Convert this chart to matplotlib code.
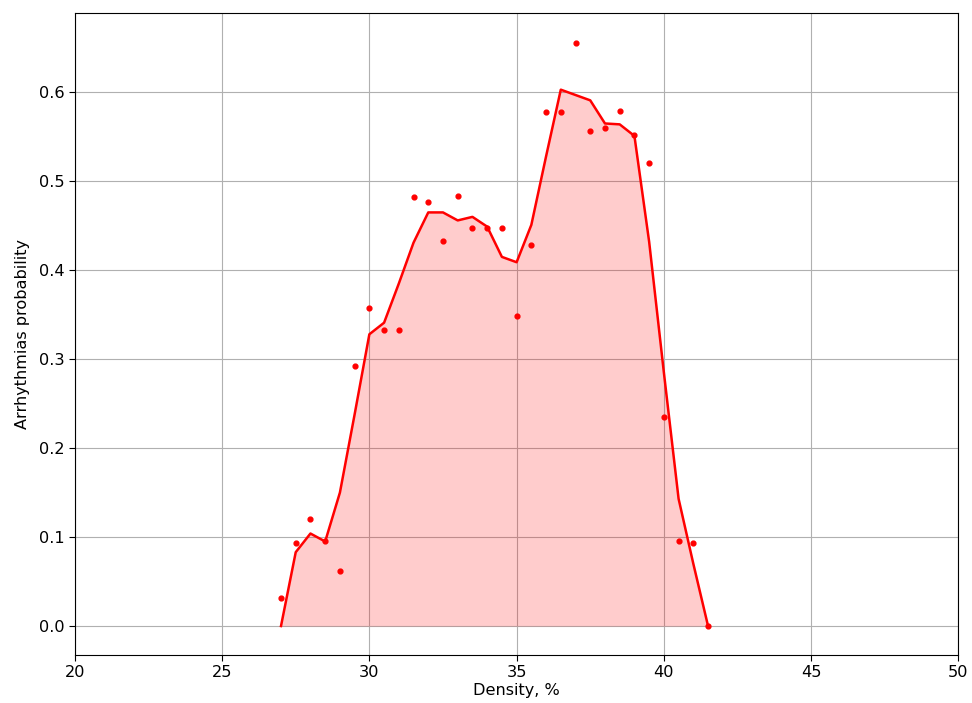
import numpy as np
import matplotlib.pyplot as plt

density = [27.0, 27.5, 28.0, 28.5, 29.0, 29.5, 30.0, 30.5, 31.0, 31.5,
           32.0, 32.5, 33.0, 33.5, 34.0, 34.5, 35.0, 35.5, 36.0, 36.5,
           37.0, 37.5, 38.0, 38.5, 39.0, 39.5, 40.0, 40.5, 41.0, 41.5]

# observed probabilities (dots)
prob_raw = [0.032, 0.093, 0.120, 0.096, 0.062, 0.292, 0.357, 0.333, 0.333, 0.482,
            0.477, 0.433, 0.484, 0.448, 0.448, 0.448, 0.348, 0.428, 0.578, 0.578,
            0.656, 0.556, 0.560, 0.579, 0.552, 0.520, 0.235, 0.096, 0.093, 0.0]

# smoothed curve
prob_smooth = [0.0, 0.083, 0.104, 0.095, 0.150, 0.238, 0.328, 0.341, 0.385, 0.431,
               0.465, 0.465, 0.456, 0.460, 0.449, 0.415, 0.409, 0.451, 0.528, 0.603,
               0.597, 0.591, 0.565, 0.564, 0.551, 0.432, 0.285, 0.143, 0.070, 0.0]

plt.rcParams['font.size'] = 11.6

fig, ax = plt.subplots(figsize=(9.72, 7.03), dpi=100)

ax.scatter(density, prob_raw, color='red', s=12, zorder=3)
ax.plot(density, prob_smooth, color='red', lw=1.8, zorder=3)
ax.fill_between(density, prob_smooth, color='red', alpha=0.2, lw=0)

ax.set_xlim(20, 50)
ax.set_xlabel('Density, %', labelpad=2)
ax.set_ylabel('Arrhythmias probability', labelpad=7)
ax.tick_params(length=4.2, pad=2.8)
ax.grid(True)
ax.set_axisbelow(True)

plt.subplots_adjust(left=0.077, right=0.986, top=0.981, bottom=0.068)
plt.savefig('out.png', dpi=100)
